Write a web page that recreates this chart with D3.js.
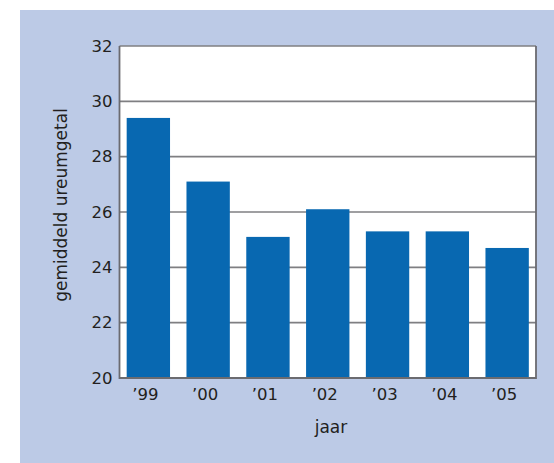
<!DOCTYPE html>
<html>
<head>
<meta charset="utf-8">
<script src="https://cdn.jsdelivr.net/npm/d3@7"></script>
<style>
  html, body { margin: 0; padding: 0; background: #fff; }
  svg { display: block; font-family: "DejaVu Sans", sans-serif; }
</style>
</head>
<body>
<svg id="chart" width="554" height="463"></svg>
<script>
// data
const years = ["’99", "’00", "’01", "’02", "’03", "’04", "’05"];
const ureum = [29.4, 27.1, 25.1, 26.1, 25.3, 25.3, 24.7];
const yTicks = [20, 22, 24, 26, 28, 30, 32];

const svg = d3.select("#chart");
const plot = { left: 119.5, right: 536, top: 46, bottom: 378 };
const font = "DejaVu Sans, sans-serif";
const ink = "#231f20";

// light blue panel behind everything
svg.append("rect")
  .attr("x", 20).attr("y", 10)
  .attr("width", 534).attr("height", 453)
  .attr("fill", "#bccae6");

svg.append("rect")
  .attr("x", plot.left).attr("y", plot.top)
  .attr("width", plot.right - plot.left).attr("height", plot.bottom - plot.top)
  .attr("fill", "#fff");

const x = d3.scaleBand().domain(years)
  .range([plot.left, plot.right])
  .paddingInner(0.275).paddingOuter(0.12);

const y = d3.scaleLinear().domain([20, 32]).range([plot.bottom, plot.top]);

// gridlines
svg.append("g")
  .selectAll("line").data(yTicks.filter(t => t > 20)).enter().append("line")
  .attr("x1", plot.left).attr("x2", plot.right)
  .attr("y1", d => y(d)).attr("y2", d => y(d))
  .attr("stroke", "#7f7f82").attr("stroke-width", 1.6);

svg.append("g")
  .selectAll("rect").data(ureum).enter().append("rect")
  .attr("x", (d, i) => x(years[i]))
  .attr("width", x.bandwidth())
  .attr("y", d => y(d))
  .attr("height", d => y(20) - y(d))
  .attr("fill", "#0868b1");

// frame: left, bottom, right
svg.append("path")
  .attr("d", `M${plot.left},${plot.top}V${plot.bottom}H${plot.right}V${plot.top}`)
  .attr("fill", "none").attr("stroke", "#6b6b70").attr("stroke-width", 1.8);

const yAxis = svg.append("g")
  .attr("transform", `translate(${plot.left},0)`)
  .call(d3.axisLeft(y).tickValues(yTicks).tickSize(0).tickPadding(7).tickFormat(d3.format("d")));
yAxis.select(".domain").remove();
yAxis.selectAll("text")
  .attr("font-size", 16.5).attr("fill", ink).attr("font-family", font);

const xAxis = svg.append("g")
  .attr("transform", `translate(0,${plot.bottom})`)
  .call(d3.axisBottom(x).tickSize(0).tickPadding(10));
xAxis.select(".domain").remove();
xAxis.selectAll("text")
  .attr("font-size", 16.5).attr("fill", ink).attr("dx", -3).attr("font-family", font);

svg.append("text")
  .attr("x", 331).attr("y", 433)
  .attr("text-anchor", "middle")
  .attr("font-size", 17).attr("fill", ink).attr("font-family", font)
  .text("jaar");

svg.append("text")
  .attr("transform", "translate(67,205) rotate(-90)")
  .attr("text-anchor", "middle")
  .attr("font-size", 17).attr("fill", ink).attr("font-family", font)
  .text("gemiddeld ureumgetal");
</script>
</body>
</html>
